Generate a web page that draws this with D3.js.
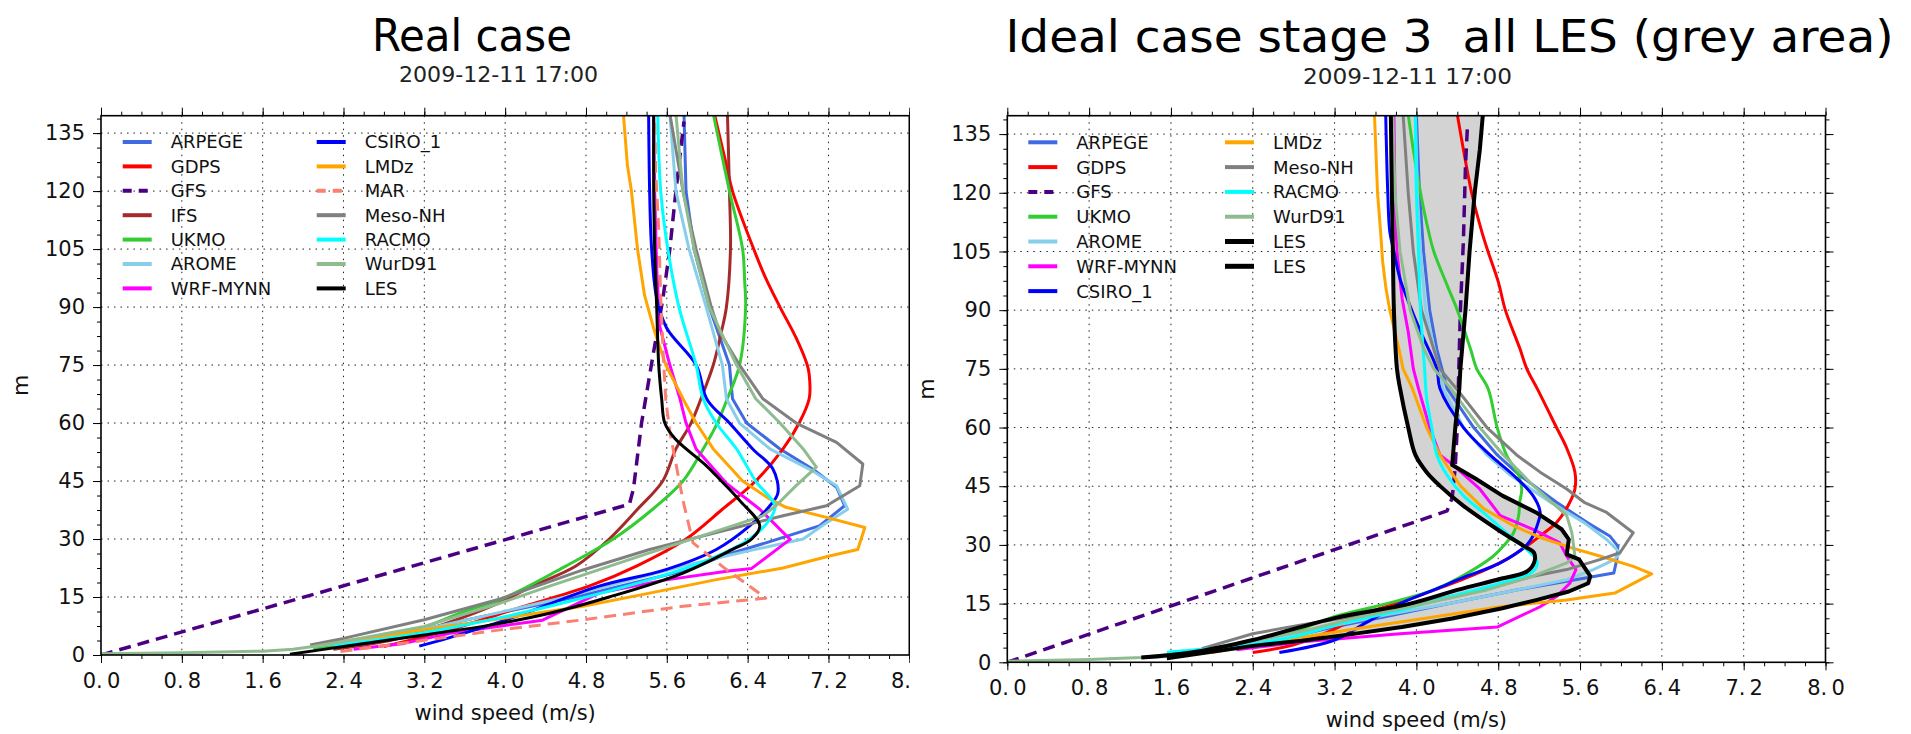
<!DOCTYPE html>
<html>
<head>
<meta charset="utf-8">
<script src="https://cdn.jsdelivr.net/npm/d3@7"></script>
<style>
  body { margin: 0; background: #fff; }
  svg { display: block; }
</style>
</head>
<body>
<svg id="fig" width="1911" height="734"></svg>
<script>
// ---- wind speed profiles: [wind speed (m/s), height (m)] ----
// Real case
const realARPEGE = [[2.2,2.3],[2.9,5],[3.78,10],[4.7,15],[5.8,22],[6.15,25.6],[6.58,29],[7.11,33.4],[7.36,38.6],[7.28,43.4],[7.05,48],[6.72,53.3],[6.39,60],[6.25,66.3],[6.22,75],[6.02,90],[5.87,105],[5.79,120],[5.77,140]];
const realGDPS = [[2.8,2.2],[3.45,6.5],[4.11,12],[4.83,17.8],[5.30,23],[5.79,30],[6.15,37.7],[6.48,45],[6.75,53.3],[6.91,60],[7.01,66.4],[7.01,72.4],[6.99,75],[6.88,82],[6.72,90],[6.58,97.4],[6.46,105],[6.25,120],[6.19,126.7],[6.07,140]];
const realGFS = [[0,0],[5.23,39],[5.27,43],[5.35,60],[5.46,77],[5.56,92],[5.63,105],[5.69,120],[5.77,138]];
const realIFS = [[2.3,1.5],[2.9,4],[3.45,8.5],[3.94,13.5],[4.27,17.8],[4.70,23],[5.03,30],[5.31,37.7],[5.56,45],[5.69,53.3],[5.84,60],[5.94,66.4],[6.06,75],[6.14,83.6],[6.19,90],[6.23,105],[6.22,120],[6.20,140]];
const realUKMO = [[2.1,1.8],[2.4,2.8],[3.12,6.5],[3.55,10.8],[4.01,15],[4.60,23],[5.07,30],[5.46,37.7],[5.76,45],[5.96,53.3],[6.10,60],[6.20,66.4],[6.32,75],[6.38,90],[6.37,97],[6.35,105],[6.22,120],[6.06,140]];
const realAROME = [[2.1,2.2],[2.9,5],[3.78,10],[4.6,15],[5.76,23],[6.42,27],[6.95,30],[7.14,33.5],[7.39,37.7],[7.28,43.8],[7.01,48.1],[6.62,53.3],[6.32,60],[6.19,66.3],[6.15,75],[5.99,90],[5.82,105],[5.69,120],[5.63,140]];
const realWRF = [[2.5,1.5],[3.0,3],[3.45,5.6],[4.37,9],[4.93,16],[5.56,19.3],[6.21,21.7],[6.44,22.4],[6.82,29.9],[6.52,37.7],[6.19,44.4],[5.89,53.3],[5.79,60],[5.73,66.3],[5.63,75],[5.53,85],[5.50,100],[5.48,120],[5.47,140]];
const realCSIRO = [[3.15,2.3],[3.45,4.5],[4.11,10],[4.93,17.8],[5.59,22.1],[6.09,27.3],[6.42,33.4],[6.62,38.6],[6.70,42],[6.65,48.1],[6.45,53.3],[6.22,60],[6.0,66],[5.89,75],[5.60,84.5],[5.50,92.3],[5.45,105],[5.43,120],[5.42,140]];
const realLMDz = [[2.1,2.6],[2.8,5],[3.45,7.5],[4.11,10],[4.77,12.6],[5.43,16],[6.09,19.5],[6.75,22.5],[7.21,25.6],[7.49,27.3],[7.56,33],[7.18,35.6],[6.78,38.2],[6.62,40.3],[6.35,45],[6.06,53.3],[5.89,60],[5.76,66.3],[5.59,75],[5.48,83.6],[5.38,93],[5.31,105],[5.25,120],[5.21,126.7],[5.17,140]];
const realMAR = [[2.37,0.9],[3.2,3.8],[3.95,6.5],[4.77,9.1],[5.76,12.6],[6.58,14.7],[6.42,17.8],[6.19,22.1],[5.86,29],[5.76,40],[5.63,57.7],[5.59,66],[5.57,75],[5.54,92],[5.52,110],[5.49,125],[5.48,140]];
const realMesoNH = [[2.07,2.6],[2.4,4.3],[3.2,9.1],[3.95,14.5],[4.77,22],[5.43,27.3],[6.09,31.7],[6.75,36],[7.18,38.6],[7.51,43.8],[7.54,49.4],[7.28,55],[6.88,60],[6.55,66.3],[6.32,75],[6.12,83.6],[6.04,90],[5.89,105],[5.76,120],[5.63,140]];
const realRACMO = [[2.3,2.3],[2.9,4.5],[3.45,7],[4.01,10],[4.70,14.3],[5.43,19.5],[6.02,24.7],[6.42,30],[6.62,35.1],[6.67,38.6],[6.48,45],[6.29,53.3],[6.09,60],[5.96,66.3],[5.89,75],[5.72,90],[5.61,105],[5.54,120],[5.51,140]];
const realWurD91 = [[0,0.3],[0.8,0.6],[1.6,1.0],[1.9,1.5],[2.1,2.2],[2.4,3.5],[3.2,7.4],[3.95,13.4],[4.44,17.8],[5.43,26.4],[6.25,33.4],[6.55,36],[6.68,38.6],[6.88,43.8],[7.08,48.6],[6.95,53.3],[6.72,60],[6.48,66.3],[6.29,75],[6.02,90],[5.87,105],[5.76,120],[5.69,140]];
const realLES = [[1.87,0.2],[2.4,2.2],[3.2,5.2],[3.78,7.4],[4.44,10.8],[5.03,15],[5.76,21.2],[6.25,27.3],[6.44,30],[6.52,33.4],[6.32,40],[6.14,45],[5.99,49],[5.68,56],[5.58,60],[5.55,66],[5.52,75],[5.50,90],[5.48,105],[5.47,120],[5.47,140]];

// Ideal case stage 3
const idealARPEGE = [[1.9,2.5],[2.6,5.5],[3.19,9],[3.68,11.6],[4.33,15.1],[4.98,18.5],[5.47,20.7],[5.93,22.8],[5.96,26.3],[5.97,29.7],[5.89,32.3],[5.67,35.7],[5.37,40.9],[5.01,47.8],[4.79,53],[4.56,60],[4.30,70],[4.25,75],[4.20,80],[4.13,90],[4.07,105],[4.03,120],[4.0,140]];
const idealGDPS = [[2.40,2.5],[2.8,4.5],[3.2,8.5],[3.42,11.6],[4.0,16.8],[4.53,22],[4.88,26.3],[5.08,29.7],[5.21,32.3],[5.37,35.7],[5.50,40.9],[5.55,44.3],[5.55,48.6],[5.47,54.7],[5.37,60],[5.18,70],[5.08,75],[5.01,80.3],[4.87,90],[4.80,97.3],[4.70,105],[4.64,110],[4.54,120],[4.46,131],[4.40,140]];
const idealGFS = [[0,0],[4.30,38.7],[4.35,42],[4.38,50],[4.40,60],[4.41,70],[4.43,90],[4.46,108],[4.48,127],[4.50,137.5]];
const idealUKMO = [[1.9,2.6],[2.6,6],[3.19,11.6],[3.71,15],[4.17,18.5],[4.50,22.8],[4.75,27.1],[4.85,29.7],[4.95,33.1],[5.0,37.5],[5.01,40.9],[5.03,44.3],[5.0,47.8],[4.88,53],[4.79,60],[4.70,70],[4.59,75],[4.53,80],[4.40,90],[4.30,96.4],[4.17,105],[4.12,110],[4.04,120],[3.97,131],[3.92,140]];
const idealAROME = [[1.9,2.7],[2.6,5.8],[3.19,9.3],[3.68,12],[4.33,15.1],[4.98,18.5],[5.47,21.1],[5.73,23.7],[5.94,26.3],[5.99,28],[5.86,31.4],[5.64,35.7],[5.31,40.9],[4.92,47.8],[4.69,53],[4.46,60],[4.26,70],[4.22,75],[4.09,90],[4.04,105],[4.01,120],[3.99,140]];
const idealWRF = [[2.24,3.2],[2.86,5.2],[3.84,7.3],[4.79,9],[5.21,14.2],[5.37,16.8],[5.50,20.2],[5.56,23.7],[5.47,27.1],[5.40,30.6],[5.14,34],[4.82,37.5],[4.62,44.3],[4.36,50.4],[4.23,53],[4.13,60],[4.02,70],[3.97,75],[3.92,84.5],[3.86,93],[3.81,105],[3.79,120],[3.78,140]];
const idealCSIRO = [[2.66,2.5],[3.2,5.7],[3.5,10],[3.84,15],[4.17,18.5],[4.49,22],[4.82,25.4],[5.08,30],[5.14,32.3],[5.19,35.7],[5.21,38.3],[5.14,42.6],[4.95,47.8],[4.72,53],[4.46,60],[4.23,70],[4.20,75],[4.04,84.5],[3.91,93],[3.84,98],[3.78,105],[3.74,110],[3.72,120],[3.70,140]];
const idealLMDz = [[2.0,2.5],[2.8,6],[3.52,9],[4.17,11.6],[4.82,14.2],[5.47,15.9],[5.94,17.7],[6.30,22.6],[6.12,24.5],[5.80,27.1],[5.51,29.3],[5.21,31.9],[4.95,34.9],[4.66,39.2],[4.43,45.1],[4.23,53],[4.10,60],[3.96,70],[3.87,75],[3.83,80],[3.74,90],[3.70,96],[3.67,102.4],[3.65,110],[3.62,120],[3.59,140]];
const idealMesoNH = [[1.9,3.5],[2.4,7.3],[2.86,9.5],[3.35,11.6],[4.0,15.1],[4.66,18.5],[5.14,22],[5.47,23.7],[5.80,26.3],[5.99,28],[6.12,33.1],[5.86,38.3],[5.64,40.9],[5.47,44.3],[5.21,48.6],[4.98,53],[4.69,60],[4.39,70],[4.23,75],[4.17,80],[4.05,90],[3.97,105],[3.92,120],[3.87,140]];
const idealRACMO = [[1.56,2.6],[2.0,3.5],[2.4,4.6],[2.8,6.5],[3.26,9.9],[3.84,13.3],[4.33,16.8],[4.82,20.2],[5.14,23.2],[5.18,25.8],[5.08,28.8],[4.88,33.1],[4.69,37.5],[4.46,42.6],[4.30,47.8],[4.20,53],[4.15,60],[4.10,67.5],[4.08,75],[4.04,90],[4.02,105],[4.0,120],[3.99,140]];
const idealWurD91 = [[0,0.3],[0.8,0.7],[1.31,1.2],[1.8,2.5],[2.4,5.5],[2.9,8],[3.45,11.6],[4.10,15.1],[4.69,18.5],[5.14,22],[5.47,25.4],[5.55,27.1],[5.52,33.1],[5.47,37.5],[5.14,45.2],[4.85,53],[4.62,60],[4.33,70.2],[4.17,75],[4.07,80.3],[3.94,90],[3.84,105],[3.79,120],[3.77,140]];
// envelope of all LES runs (lower and upper bound)
const idealLESlow = [[1.31,1.2],[1.8,2.5],[2.4,5.7],[3.2,11.3],[3.94,15],[4.40,18.5],[4.79,21.1],[5.08,23.2],[5.15,25.4],[5.15,28],[5.05,29.7],[4.79,34],[4.46,40],[4.23,45.1],[4.10,48.6],[3.99,53],[3.92,60],[3.84,70],[3.81,75],[3.78,90],[3.77,105],[3.76,120],[3.75,140]];
const idealLEShigh = [[1.56,1.0],[2.4,4.2],[2.88,5.5],[3.37,7.2],[3.86,9],[4.35,11.2],[4.84,13.8],[5.17,15.9],[5.49,18.1],[5.68,20.2],[5.70,22],[5.59,26.3],[5.47,27.6],[5.49,31.4],[5.42,34],[5.17,38.3],[4.84,42.6],[4.58,46.9],[4.35,50.4],[4.38,60],[4.42,70],[4.43,75],[4.48,90],[4.52,105],[4.57,120],[4.62,131],[4.65,140]];

// ---- axis ticks ----
const xTickValues = [0, 0.8, 1.6, 2.4, 3.2, 4.0, 4.8, 5.6, 6.4, 7.2, 8.0];
const yTickValues = [0, 15, 30, 45, 60, 75, 90, 105, 120, 135];

// ---- model styles ----
const styles = {
  "ARPEGE":   { color: "#4169E1" },
  "GDPS":     { color: "#FF0000" },
  "GFS":      { color: "#4B0082", dash: "12,7", width: 3.5 },
  "IFS":      { color: "#A52A2A" },
  "UKMO":     { color: "#32CD32" },
  "AROME":    { color: "#87CEEB" },
  "WRF-MYNN": { color: "#FF00FF" },
  "CSIRO_1":  { color: "#0000FF" },
  "LMDz":     { color: "#FFA500" },
  "MAR":      { color: "#FA8072", dash: "12,7" },
  "Meso-NH":  { color: "#808080" },
  "RACMO":    { color: "#00FFFF" },
  "WurD91":   { color: "#8FBC8F" },
  "LES":      { color: "#000000" }
};

const realSeries = [
  { name: "ARPEGE", data: realARPEGE, sharp: true },
  { name: "GDPS", data: realGDPS },
  { name: "GFS", data: realGFS, sharp: true },
  { name: "IFS", data: realIFS },
  { name: "UKMO", data: realUKMO },
  { name: "AROME", data: realAROME, sharp: true },
  { name: "WRF-MYNN", data: realWRF, sharp: true },
  { name: "CSIRO_1", data: realCSIRO },
  { name: "LMDz", data: realLMDz, sharp: true },
  { name: "MAR", data: realMAR, sharp: true },
  { name: "Meso-NH", data: realMesoNH, sharp: true },
  { name: "RACMO", data: realRACMO },
  { name: "WurD91", data: realWurD91, sharp: true },
  { name: "LES", data: realLES }
];

const idealSeries = [
  { name: "ARPEGE", data: idealARPEGE, sharp: true },
  { name: "GDPS", data: idealGDPS },
  { name: "GFS", data: idealGFS, sharp: true },
  { name: "UKMO", data: idealUKMO },
  { name: "AROME", data: idealAROME, sharp: true },
  { name: "WRF-MYNN", data: idealWRF, sharp: true },
  { name: "CSIRO_1", data: idealCSIRO },
  { name: "LMDz", data: idealLMDz, sharp: true },
  { name: "Meso-NH", data: idealMesoNH, sharp: true },
  { name: "RACMO", data: idealRACMO },
  { name: "WurD91", data: idealWurD91, sharp: true },
  { name: "LES", data: idealLESlow, width: 4 },
  { name: "LES", data: idealLEShigh, width: 4, sharp: true }
];

const svg = d3.select("#fig");
svg.append("rect").attr("width", 1911).attr("height", 734).attr("fill", "#fff");

const defs = svg.append("defs");
defs.append("clipPath").attr("id", "leftPanelClip")
  .append("rect").attr("x", 0).attr("y", 0).attr("width", 910).attr("height", 734);

const tickFmt = d => d3.format(".1f")(d).replace(".", ".\u2009");

function drawPanel(cfg) {
  const root = svg.append("g");
  if (cfg.clipId) root.attr("clip-path", `url(#${cfg.clipId})`);

  const x = d3.scaleLinear().domain([0, 8]).range([cfg.left, cfg.right]);
  const y = d3.scaleLinear().domain([0, cfg.zMax]).range([cfg.bottom, cfg.top]);

  const plotClip = "plot-" + cfg.id;
  defs.append("clipPath").attr("id", plotClip)
    .append("rect").attr("x", cfg.left).attr("y", cfg.top)
    .attr("width", cfg.right - cfg.left).attr("height", cfg.bottom - cfg.top);

  // dotted grid
  const grid = root.append("g").attr("stroke", "#222").attr("stroke-width", 1)
    .attr("stroke-dasharray", "1.5,5");
  xTickValues.slice(1, -1).forEach(v => {
    grid.append("line").attr("x1", x(v)).attr("x2", x(v))
      .attr("y1", cfg.top).attr("y2", cfg.bottom);
  });
  yTickValues.slice(1).forEach(v => {
    grid.append("line").attr("x1", cfg.left).attr("x2", cfg.right)
      .attr("y1", y(v)).attr("y2", y(v));
  });

  const plot = root.append("g").attr("clip-path", `url(#${plotClip})`);

  // LES spread (grey band)
  if (cfg.band) {
    const ring = cfg.band[0].concat(cfg.band[1].slice().reverse());
    plot.append("path")
      .attr("d", d3.line().x(d => x(d[0])).y(d => y(d[1]))(ring) + "Z")
      .attr("fill", "#d3d3d3").attr("stroke", "none");
  }

  const smooth = d3.line().x(d => x(d[0])).y(d => y(d[1])).curve(d3.curveCatmullRom.alpha(0.5));
  const sharp = d3.line().x(d => x(d[0])).y(d => y(d[1]));

  cfg.series.forEach(s => {
    const st = styles[s.name];
    plot.append("path")
      .attr("d", (s.sharp ? sharp : smooth)(s.data))
      .attr("fill", "none")
      .attr("stroke", st.color)
      .attr("stroke-width", s.width || st.width || 3)
      .attr("stroke-dasharray", st.dash || null)
      .attr("stroke-linejoin", "round");
  });

  // frame
  root.append("rect").attr("x", cfg.left).attr("y", cfg.top)
    .attr("width", cfg.right - cfg.left).attr("height", cfg.bottom - cfg.top)
    .attr("fill", "none").attr("stroke", "#000").attr("stroke-width", 1.6);

  const xMinor = d3.range(0, 8.001, 0.2);
  const yMinor = d3.range(0, cfg.zMax, 3.75);

  function styleAxis(sel) {
    sel.select(".domain").remove();
    sel.selectAll("line").attr("stroke", "#000").attr("stroke-width", 1);
    sel.attr("font-family", "'DejaVu Sans', sans-serif").attr("font-size", 21);
    sel.selectAll("text").attr("fill", "#111");
  }

  // bottom
  root.append("g").attr("transform", `translate(0,${cfg.bottom})`)
    .call(d3.axisBottom(x).tickValues(xMinor).tickSize(4).tickFormat("")).call(styleAxis);
  root.append("g").attr("transform", `translate(0,${cfg.bottom})`)
    .call(d3.axisBottom(x).tickValues(xTickValues).tickSize(8).tickPadding(10).tickFormat(tickFmt))
    .call(styleAxis);
  // top
  root.append("g").attr("transform", `translate(0,${cfg.top})`)
    .call(d3.axisTop(x).tickValues(xMinor).tickSize(4).tickFormat("")).call(styleAxis);
  root.append("g").attr("transform", `translate(0,${cfg.top})`)
    .call(d3.axisTop(x).tickValues(xTickValues).tickSize(8).tickFormat("")).call(styleAxis);
  // left
  root.append("g").attr("transform", `translate(${cfg.left},0)`)
    .call(d3.axisLeft(y).tickValues(yMinor).tickSize(4).tickFormat("")).call(styleAxis);
  root.append("g").attr("transform", `translate(${cfg.left},0)`)
    .call(d3.axisLeft(y).tickValues(yTickValues).tickSize(8).tickPadding(8).tickFormat(d3.format("d")))
    .call(styleAxis);
  // right
  root.append("g").attr("transform", `translate(${cfg.right},0)`)
    .call(d3.axisRight(y).tickValues(yMinor).tickSize(4).tickFormat("")).call(styleAxis);
  root.append("g").attr("transform", `translate(${cfg.right},0)`)
    .call(d3.axisRight(y).tickValues(yTickValues).tickSize(8).tickFormat("")).call(styleAxis);

  // axis labels
  root.append("text").attr("x", (cfg.left + cfg.right) / 2).attr("y", cfg.bottom + 65)
    .attr("text-anchor", "middle").attr("font-family", "'DejaVu Sans', sans-serif")
    .attr("font-size", 21).attr("fill", "#111").text("wind speed (m/s)");
  root.append("text")
    .attr("transform", `translate(${cfg.left - 73},${(cfg.top + cfg.bottom) / 2}) rotate(-90)`)
    .attr("text-anchor", "middle").attr("font-family", "'DejaVu Sans', sans-serif")
    .attr("font-size", 22).attr("fill", "#111").text("m");

  // legend (two columns, no frame)
  const lg = root.append("g").attr("font-family", "'DejaVu Sans', sans-serif").attr("font-size", 18);
  cfg.legend.forEach((col, ci) => {
    col.forEach((name, ri) => {
      const st = styles[name];
      const lx = cfg.legendX[ci];
      const ly = cfg.legendY + ri * cfg.legendStep;
      const isLES = name === "LES" && cfg.id === "ideal";
      lg.append("line").attr("x1", lx).attr("x2", lx + 29).attr("y1", ly).attr("y2", ly)
        .attr("stroke", st.color).attr("stroke-width", isLES ? 5 : 4)
        .attr("stroke-dasharray", st.dash ? "9,7" : null);
      lg.append("text").attr("x", lx + 48).attr("y", ly).attr("dy", "0.36em")
        .attr("fill", "#111").text(name);
    });
  });

  // titles
  const tf = "'DejaVu Sans Condensed', 'DejaVu Sans', sans-serif";
  root.append("text").attr("x", cfg.titleX).attr("y", cfg.titleY)
    .attr("font-family", tf).attr("font-stretch", "condensed").attr("font-size", 44)
    .attr("textLength", cfg.titleLen).attr("lengthAdjust", "spacingAndGlyphs")
    .style("white-space", "pre")
    .attr("fill", "#000").text(cfg.title);
  root.append("text").attr("x", cfg.subX).attr("y", cfg.subY)
    .attr("font-family", tf).attr("font-stretch", "condensed").attr("font-size", 22)
    .attr("textLength", cfg.subLen).attr("lengthAdjust", "spacingAndGlyphs")
    .attr("fill", "#222").text("2009-12-11 17:00");
}

drawPanel({
  id: "real", clipId: "leftPanelClip",
  left: 101, right: 909.3, top: 115.7, bottom: 655, zMax: 139.5,
  series: realSeries,
  legend: [["ARPEGE", "GDPS", "GFS", "IFS", "UKMO", "AROME", "WRF-MYNN"],
           ["CSIRO_1", "LMDz", "MAR", "Meso-NH", "RACMO", "WurD91", "LES"]],
  legendX: [122.7, 316.7], legendY: 142, legendStep: 24.4,
  title: "Real case", titleX: 372, titleY: 51, titleLen: 200,
  subX: 399, subY: 81.5, subLen: 199
});

drawPanel({
  id: "ideal",
  left: 1007.3, right: 1825.5, top: 115.7, bottom: 662.3, zMax: 139.7,
  series: idealSeries, band: [idealLESlow, idealLEShigh],
  legend: [["ARPEGE", "GDPS", "GFS", "UKMO", "AROME", "WRF-MYNN", "CSIRO_1"],
           ["LMDz", "Meso-NH", "RACMO", "WurD91", "LES", "LES"]],
  legendX: [1028.3, 1225], legendY: 142.3, legendStep: 24.8,
  title: "Ideal case stage 3\u00A0 all LES (grey area)", titleX: 1005.5, titleY: 52, titleLen: 888,
  subX: 1303, subY: 83.5, subLen: 209
});
</script>
</body>
</html>
